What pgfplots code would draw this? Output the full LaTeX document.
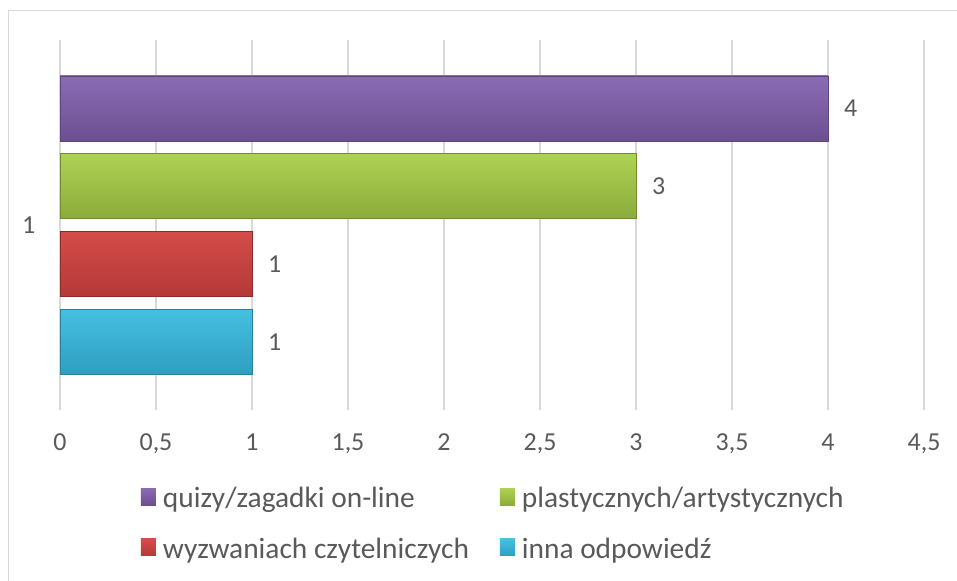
\documentclass[border=0pt]{standalone}
\usepackage{fontspec}
\setmainfont{Carlito}
\usepackage{pgfplots}
\pgfplotsset{compat=1.18}

% Office-style series colours (top/bottom of the gradient, border)
\definecolor{purT}{HTML}{8A6CB4}
\definecolor{purB}{HTML}{6C4F91}
\definecolor{purD}{HTML}{5E4480}
\definecolor{grnT}{HTML}{AED254}
\definecolor{grnB}{HTML}{8CAB3B}
\definecolor{grnD}{HTML}{6F8C2F}
\definecolor{redT}{HTML}{D44C49}
\definecolor{redB}{HTML}{B43938}
\definecolor{redD}{HTML}{8F2A2A}
\definecolor{bluT}{HTML}{46BFE1}
\definecolor{bluB}{HTML}{2E9FC1}
\definecolor{bluD}{HTML}{2A7F9A}
\definecolor{gridc}{HTML}{D9D9D9}
\definecolor{txt}{HTML}{595959}

\begin{document}
\begin{tikzpicture}
\path[use as bounding box] (0,0) rectangle (957bp,-581bp);
\draw[gridc, line width=1bp] (8bp,-10bp) rectangle (1000bp,-700bp);

\begin{axis}[
  at={(60bp,-410bp)}, anchor=south west,
  scale only axis, width=864bp, height=370bp,
  xbar, bar width=65bp,
  xmin=0, xmax=4.5, ymin=-1, ymax=1,
  enlargelimits=false,
  xtick={0,0.5,1,1.5,2,2.5,3,3.5,4,4.5},
  ytick={0}, yticklabels={1},
  /pgf/number format/use comma,
  /pgf/number format/assume math mode=true,
  xmajorgrids, major grid style={gridc, line width=1.2bp},
  axis line style={draw=none},
  tick style={draw=none},
  ticklabel style={font=\fontsize{26}{30}\selectfont, text=txt},
  xticklabel style={anchor=base, yshift=-40bp},
  yticklabel style={anchor=base, xshift=-27bp, yshift=-8bp},
  nodes near coords,
  nodes near coords style={font=\fontsize{26}{30}\selectfont, text=txt,
                           anchor=west, inner sep=0pt, xshift=16bp},
  legend columns=2,
  legend cell align=left,
  legend style={at={(axis description cs:0.0935,-0.205)}, anchor=north west,
                draw=none, fill=none, inner xsep=0pt, inner ysep=0pt,
                font=\fontsize{29.5}{35}\selectfont, text=txt,
                row sep=27bp,
                nodes={inner sep=1bp}},
  /tikz/every odd column/.append style={column sep=6bp},
  /tikz/every even column/.append style={column sep=30bp},
  legend image code/.code={%
    \draw[#1, draw=none] (0bp,-7bp) rectangle (15bp,10bp);},
]
\addplot[bar shift=116.7bp, draw=purD, top color=purT, bottom color=purB]
  coordinates {(4,0)};
\addplot[bar shift=38.9bp, draw=grnD, top color=grnT, bottom color=grnB]
  coordinates {(3,0)};
\addplot[bar shift=-38.9bp, draw=redD, top color=redT, bottom color=redB]
  coordinates {(1,0)};
\addplot[bar shift=-116.7bp, draw=bluD, top color=bluT, bottom color=bluB]
  coordinates {(1,0)};
\legend{quizy/zagadki on-line, plastycznych/artystycznych,
        wyzwaniach czytelniczych, inna odpowiedź}
\end{axis}
\end{tikzpicture}
\end{document}
